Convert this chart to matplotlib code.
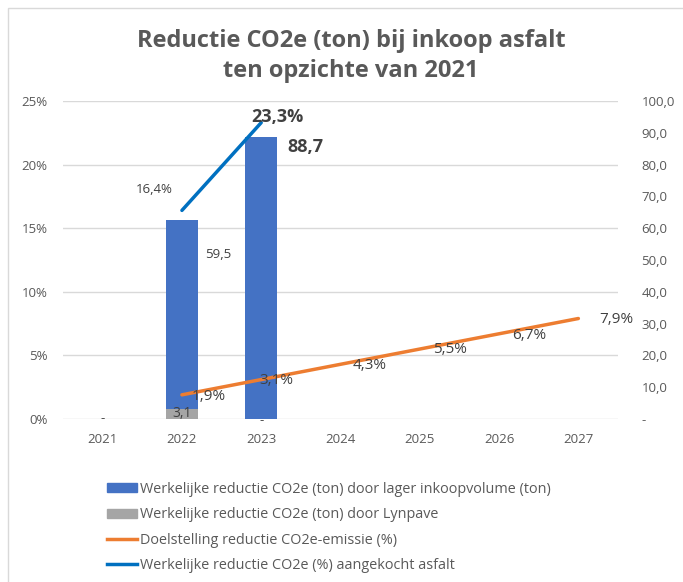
import numpy as np
import matplotlib.pyplot as plt
from matplotlib.patches import Patch, Rectangle
from matplotlib.lines import Line2D

# data
jaren = ['2021', '2022', '2023', '2024', '2025', '2026', '2027']
lager_inkoop = [0, 59.5, 88.7]          # ton, 2021-2023
lynpave = [0, 3.1, 0]                   # ton, 2021-2023
doelstelling = [np.nan, 1.9, 3.1, 4.3, 5.5, 6.7, 7.9]   # %
werkelijk_pct = [np.nan, 16.4, 23.3]    # %

plt.rcParams['font.family'] = ['Open Sans', 'DejaVu Sans']
grijs = '#595959'
donker = '#404040'

fig = plt.figure(figsize=(6.83, 5.82), dpi=100)
# chartrand (excel)
fig.add_artist(Rectangle((8 / 683, -0.01), 1, 1 - 8 / 582 + 0.01, transform=fig.transFigure,
                         fill=False, edgecolor='#D9D9D9', lw=1))

# ax2 = staven (rechter as), ax = lijnen (linker as) en boven de staven
ax2 = fig.add_axes([63 / 683, 1 - 419 / 582, 555 / 683, 318 / 582])
ax = ax2.twinx()
ax.set_zorder(ax2.get_zorder() + 1)
ax.patch.set_visible(False)

x = np.arange(len(jaren))
xb = x[:len(lager_inkoop)]

# rasterlijnen achter de staven
for g in range(0, 101, 20):
    ax2.axhline(g, color='#D9D9D9', lw=1, zorder=0)

ax2.bar(xb, lynpave, width=0.4, color='#A5A5A5', zorder=2)
ax2.bar(xb, lager_inkoop, width=0.4, bottom=lynpave, color='#4472C4', zorder=2)

ax.plot(x, doelstelling, color='#ED7D31', lw=2.5, solid_capstyle='round')
ax.plot(xb, werkelijk_pct, color='#0070C0', lw=2.5, solid_capstyle='round')

ax2.set_xlim(-0.5, 6.5)
ax2.set_ylim(0, 100)
ax.set_ylim(0, 25)

# assen opmaak
for a in (ax, ax2):
    for s in a.spines.values():
        s.set_visible(False)
    a.tick_params(length=0, colors=grijs, labelsize=9.5)
ax2.set_xticks(x)
ax2.set_xticklabels(jaren)
ax2.tick_params(axis='x', pad=10)

ax2.yaxis.tick_right()
ax.yaxis.tick_left()
ax2.set_yticks(range(0, 101, 10))
ax2.set_yticklabels(['-'] + [('%.1f' % v).replace('.', ',') for v in range(10, 101, 10)])
ax.set_yticks(range(0, 26, 5))
ax.set_yticklabels(['%d%%' % v for v in range(0, 26, 5)])
ax.tick_params(axis='y', pad=11)
ax2.tick_params(axis='y', pad=17)


def fmt(v):
    return ('%.1f' % v).replace('.', ',')


# labels staven
lab_kw = dict(textcoords='offset points', color=donker, ha='center', va='center')
ax2.annotate('-', (xb[0], 0), xytext=(0, 0), fontsize=9.5, **lab_kw)
ax2.annotate(fmt(lynpave[1]), (xb[1], lynpave[1]), xytext=(0, -3), fontsize=10, **lab_kw)
ax2.annotate('-', (xb[2], 0), xytext=(0, -1), fontsize=9.5, **lab_kw)
ax2.annotate(fmt(lager_inkoop[1]), (xb[1], lynpave[1] + lager_inkoop[1]), xytext=(26, -25),
             fontsize=9.5, **lab_kw)
ax2.annotate(fmt(lager_inkoop[2]), (xb[2], lynpave[2] + lager_inkoop[2]), xytext=(32, -7),
             fontsize=13, fontweight='bold', **lab_kw)

# labels lijnen
ax.annotate(fmt(werkelijk_pct[1]) + '%', (xb[1], werkelijk_pct[1]), xytext=(-20, 15),
            fontsize=9.5, **lab_kw)
ax.annotate(fmt(werkelijk_pct[2]) + '%', (xb[2], werkelijk_pct[2]), xytext=(12, 4),
            fontsize=13, fontweight='bold', **lab_kw)
doel_offsets = {1: (19, -1.5), 2: (11, -1), 3: (21, -1), 4: (22, 0), 5: (22, -1), 6: (27, -1)}
for i, (dx, dy) in doel_offsets.items():
    ax.annotate(fmt(doelstelling[i]) + '%', (x[i], doelstelling[i]), xytext=(dx, dy),
                fontsize=11, **lab_kw)

fig.text(351 / 683, 1 - 56 / 582, 'Reductie CO2e (ton) bij inkoop asfalt\nten opzichte van 2021',
         ha='center', va='center', fontsize=17, fontweight='bold', color=grijs,
         linespacing=1.35)

handles = [Patch(color='#4472C4'), Patch(color='#A5A5A5'),
           Line2D([], [], color='#ED7D31', lw=2.5), Line2D([], [], color='#0070C0', lw=2.5)]
labels = ['Werkelijke reductie CO2e (ton) door lager inkoopvolume (ton)',
          'Werkelijke reductie CO2e (ton) door Lynpave',
          'Doelstelling reductie CO2e-emissie (%)',
          'Werkelijke reductie CO2e (%) aangekocht asfalt']
leg = fig.legend(handles, labels, loc='upper left', bbox_to_anchor=(107 / 683, 1 - 482 / 582),
                 frameon=False, fontsize=10.4, handlelength=2.1, handleheight=0.6,
                 handletextpad=0.15, labelspacing=0.72, borderaxespad=0, borderpad=0)
for t in leg.get_texts():
    t.set_color(grijs)

plt.savefig('out.png', dpi=100)
plt.close()
